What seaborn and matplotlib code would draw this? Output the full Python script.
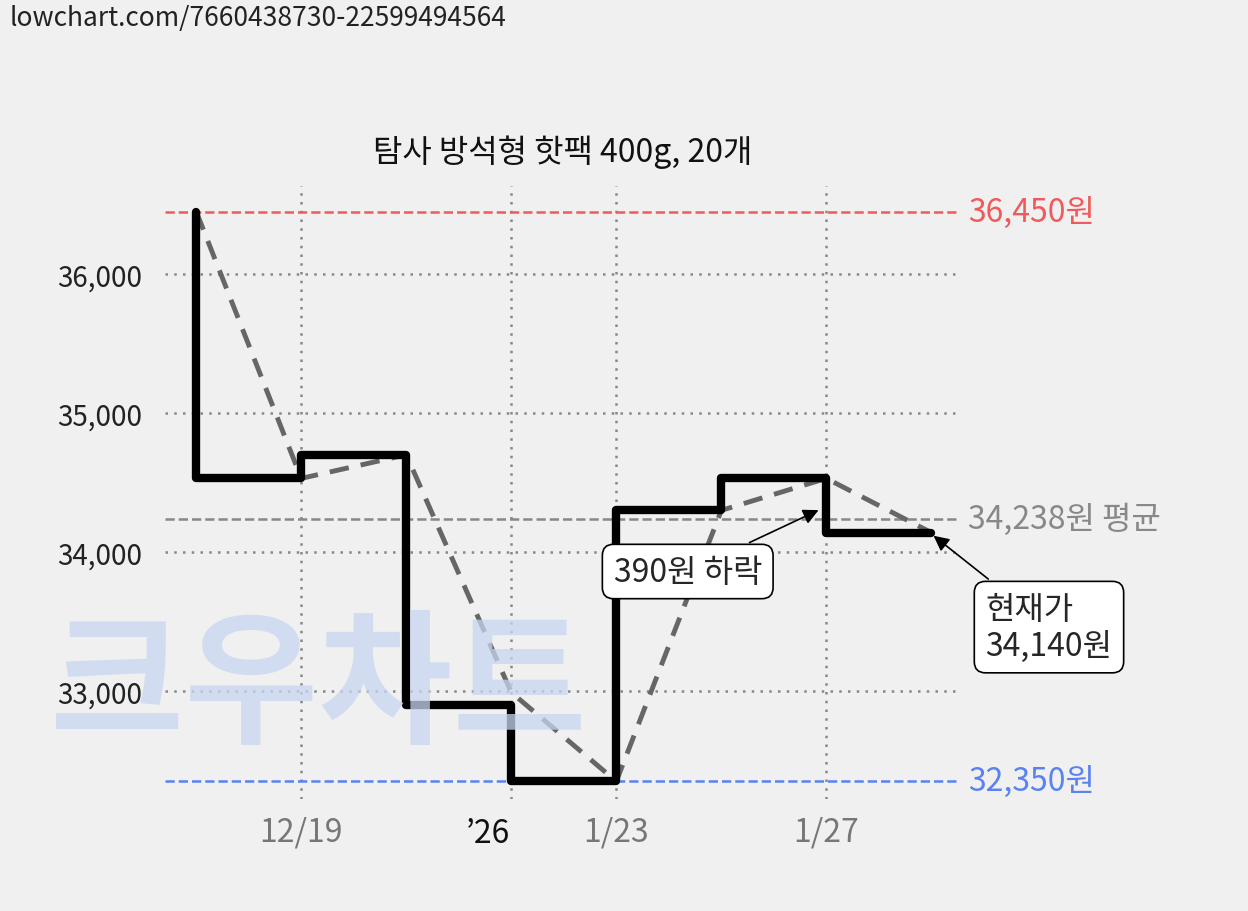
import matplotlib
matplotlib.use("Agg")
import matplotlib.pyplot as plt
import seaborn as sns
import numpy as np
import pandas as pd

title = "탐사 방석형 핫팩 400g, 20개"
step_x = [0, 1, 2, 3, 4, 5, 6, 7]
step_prices = [34530, 34700, 32900, 32350, 34300, 34530, 34140, 34140]
first_price = 36450
trend_x = [0, 1, 2, 3, 4, 5, 6, 7]
trend_prices = [36450, 34530, 34700, 32990, 32350, 34300, 34530, 34140]
xtick_pos = [1, 4, 6]
xtick_labels = ["12/19", "1/23", "1/27"]
year_pos = 3
year_label = "’26"
yticks = [33000, 34000, 35000, 36000]
max_price, avg_price, min_price = 36450, 34238, 32350

sns.set_theme(style="white")
plt.rcParams['font.family'] = ['Noto Sans CJK KR', 'DejaVu Sans']
bg = "#f0f0f0"
fig = plt.figure(figsize=(12.48, 9.12), dpi=100, facecolor=bg)
ax = fig.add_axes([0.132, 0.1228, 0.637, 0.672], facecolor=bg)
for s in ax.spines.values():
    s.set_visible(False)

ax.set_xlim(-0.3, 7.27)
ax.set_ylim(32223, 36633)

fig.text(0.008, 0.98, "lowchart.com/7660438730-22599494564", fontsize=19, color="#222222", va="center")
fig.text(0.255, 0.245, "크우차트", fontsize=105, color="#c9d6f2", weight="bold", va="center", ha="center",
         alpha=0.75, zorder=0, style="italic")

for y in yticks:
    ax.axhline(y, color="#888888", ls=(0, (1, 2.5)), lw=1.8, zorder=1)
for x in [1, 3, 4, 6]:
    ax.axvline(x, color="#888888", ls=(0, (1, 2.5)), lw=1.8, zorder=1)

ax.axhline(max_price, color="#f05a5a", ls="--", lw=1.8, zorder=1)
ax.axhline(avg_price, color="#888888", ls="--", lw=1.8, zorder=1)
ax.axhline(min_price, color="#5a82f0", ls="--", lw=1.8, zorder=1)

df_trend = pd.DataFrame({"x": trend_x, "p": trend_prices})
sns.lineplot(data=df_trend, x="x", y="p", ax=ax, color="#666666", lw=3.5, dashes=False, zorder=2)
ax.lines[-1].set_linestyle((0, (4, 2.5)))

sx = [0] + step_x
sp = [first_price] + step_prices
ax.step(sx, sp, where="post", color="black", lw=6, zorder=3)

ax.set_yticks(yticks)
ax.set_yticklabels([f"{v:,}" for v in yticks], fontsize=20, color="#222222")
ax.set_xticks(xtick_pos)
ax.set_xticklabels(xtick_labels, fontsize=23, color="#777777")
ax.tick_params(length=0, pad=12)
ax.tick_params(axis="y", pad=16)
ax.text(year_pos - 0.22, -0.03, year_label, transform=ax.get_xaxis_transform(), fontsize=23,
        color="#111111", ha="center", va="top")
ax.set_xlabel(""); ax.set_ylabel("")

ax.set_title(title, fontsize=23, color="#111111", pad=18)

tr = ax.get_yaxis_transform()
ax.text(1.01, max_price, f"{max_price:,}원", transform=tr, color="#f05a5a", fontsize=23, va="center")
ax.text(1.01, avg_price, f"{avg_price:,}원 평균", transform=tr, color="#888888", fontsize=23, va="center")
ax.text(1.01, min_price, f"{min_price:,}원", transform=tr, color="#5a82f0", fontsize=23, va="center")

ax.annotate("390원 하락", xy=(5.95, 34530 - 220), xytext=(4.68, 33860), fontsize=23, ha="center", va="center",
            bbox=dict(boxstyle="round,pad=0.35", fc="white", ec="black", lw=1.2),
            arrowprops=dict(arrowstyle="-|>", color="black", lw=1.2), annotation_clip=False)
ax.annotate("현재가\n34,140원", xy=(7.0, 34130), xytext=(8.12, 33460), fontsize=23, ha="center", va="center",
            multialignment="left",
            bbox=dict(boxstyle="round,pad=0.35", fc="white", ec="black", lw=1.2),
            arrowprops=dict(arrowstyle="-|>", color="black", lw=1.2), annotation_clip=False)

fig.savefig("out.png", dpi=100, facecolor=bg)
